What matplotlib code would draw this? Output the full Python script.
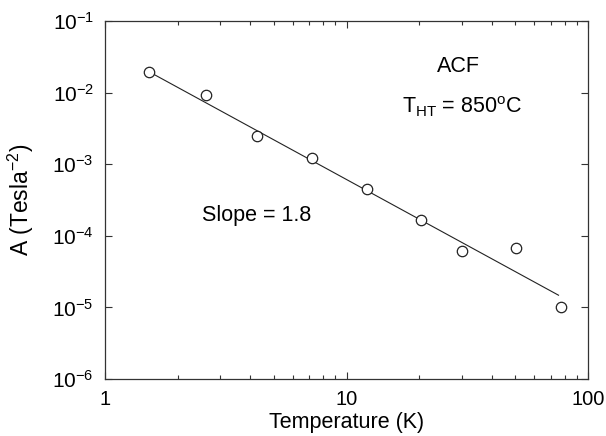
import matplotlib
matplotlib.use("Agg")
import matplotlib.pyplot as plt
from matplotlib.ticker import FixedLocator, FixedFormatter, LogLocator, NullFormatter

plt.rcParams["font.family"] = ["Liberation Sans", "DejaVu Sans"]
plt.rcParams["mathtext.fontset"] = "custom"
plt.rcParams["mathtext.rm"] = "Liberation Sans"
plt.rcParams["mathtext.it"] = "Liberation Sans"

temperature = [1.52, 2.62, 4.27, 7.18, 12.2, 20.4, 30.1, 50.3, 77.1]
amplitude = [1.96e-2, 9.2e-3, 2.45e-3, 1.23e-3, 4.46e-4, 1.65e-4, 6.2e-5, 6.7e-5, 1.0e-5]

# fitted power-law line (end points)
fit_t = [1.52, 75.5]
fit_a = [1.96e-2, 1.48e-5]

y_ticks = [1e-1, 1e-2, 1e-3, 1e-4, 1e-5, 1e-6]
y_labels = [r"$\mathregular{10^{-%d}}$" % n for n in range(1, 7)]
x_ticks = [1, 10, 100]
x_labels = ["1", "10", "100"]

W, H = 606, 436
fig = plt.figure(figsize=(W / 100, H / 100), dpi=100)
ax = fig.add_axes([105 / W, 1 - 379 / H, 483 / W, 358 / H])

ax.plot(fit_t, fit_a, color="#222222", linewidth=0.8)
ax.plot(temperature, amplitude, linestyle="none", marker="o", markersize=7.5,
        markerfacecolor="white", markeredgecolor="#222222", markeredgewidth=0.9)

ax.set_xscale("log")
ax.set_yscale("log")
ax.set_xlim(1, 100)
ax.set_ylim(1e-6, 1e-1)

ax.xaxis.set_major_locator(FixedLocator(x_ticks))
ax.xaxis.set_major_formatter(FixedFormatter(x_labels))
ax.xaxis.set_minor_locator(LogLocator(base=10, subs=range(2, 10)))
ax.xaxis.set_minor_formatter(NullFormatter())
ax.yaxis.set_major_locator(FixedLocator(y_ticks))
ax.yaxis.set_major_formatter(FixedFormatter(y_labels))
ax.yaxis.set_minor_locator(FixedLocator([]))

ax.tick_params(which="both", direction="in", top=True, right=True,
               width=0.8, color="#333333")
ax.tick_params(axis="y", labelsize=15)
ax.tick_params(axis="x", labelsize=14.5)
ax.tick_params(which="major", length=5, pad=8)
ax.tick_params(which="minor", length=3)
for sp in ax.spines.values():
    sp.set_linewidth(0.9)
    sp.set_color("#333333")

ax.set_xlabel("Temperature (K)", fontsize=15.5, labelpad=2)
ax.set_ylabel(r"A (Tesla$^{\mathregular{-2}}$)", fontsize=16.5, labelpad=12)

def fig_text(x, y, s):
    fig.text(x / W, 1 - y / H, s, fontsize=15.5, ha="center", va="center")

fig_text(458, 66, "ACF")
fig_text(462, 107, r"T$_{\mathregular{HT}}$ = 850$^{\mathregular{o}}$C")
fig_text(257, 215, "Slope = 1.8")

fig.savefig("out.png", dpi=100)
